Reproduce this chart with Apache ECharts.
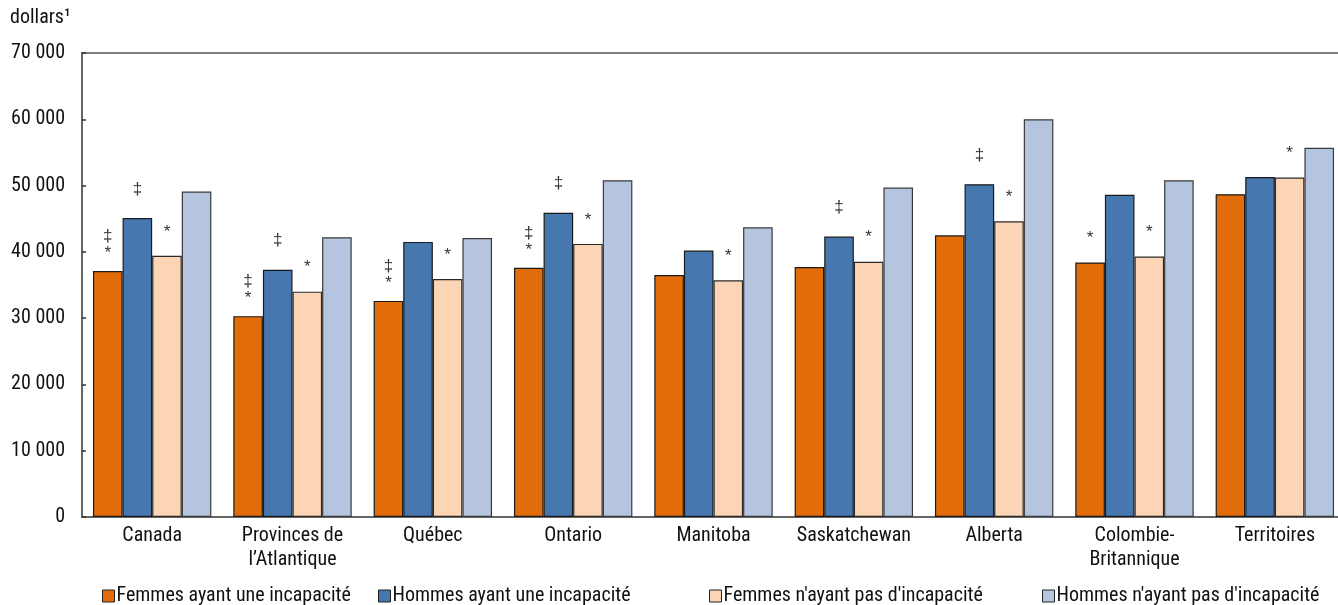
<!DOCTYPE html>
<html>
<head>
<meta charset="utf-8">
<script src="https://cdn.jsdelivr.net/npm/echarts@6/dist/echarts.min.js"></script>
<style>
html,body{margin:0;padding:0;background:#fff;overflow:hidden;}
#c{width:1352px;height:605px;}
</style>
</head>
<body>
<div id="c"></div>
<script>
const categories = ['Canada', 'Provinces de\nl\u2019Atlantique', 'Québec', 'Ontario', 'Manitoba', 'Saskatchewan', 'Alberta', 'Colombie-\nBritannique', 'Territoires'];
const seriesNames = ['Femmes ayant une incapacité', 'Hommes ayant une incapacité', "Femmes n'ayant pas d'incapacité", "Hommes n'ayant pas d'incapacité"];
const femmesIncap = [37100, 30300, 32600, 37600, 36500, 37700, 42500, 38400, 48700];
const hommesIncap = [45100, 37300, 41500, 45900, 40200, 42300, 50200, 48600, 51300];
const femmesSans  = [39400, 34000, 35900, 41200, 35700, 38500, 44600, 39300, 51200];
const hommesSans  = [49100, 42200, 42100, 50800, 43700, 49700, 60000, 50800, 55700];
const flagsFemmesIncap = ['‡*', '‡*', '‡*', '‡*', '', '', '', '*', ''];
const flagsHommesIncap = ['‡', '‡', '', '‡', '', '‡', '‡', '', ''];
const flagsFemmesSans  = ['*', '*', '*', '*', '*', '*', '*', '*', '*'];
const flagsHommesSans  = ['', '', '', '', '', '', '', '', ''];
const yTicks = [0, 10000, 20000, 30000, 40000, 50000, 60000, 70000];

const FONT = "'Liberation Sans Narrow', 'Arial Narrow', 'Roboto Condensed', 'Liberation Sans', sans-serif";
const colors = ['#E36C0A', '#4677AE', '#FBD5B5', '#B5C4DF'];
const borders = ['#1a1a1a', '#1a1a1a', '#2a2a2a', '#3a3a3a'];
const values = [femmesIncap, hommesIncap, femmesSans, hommesSans];
const flags = [flagsFemmesIncap, flagsHommesIncap, flagsFemmesSans, flagsHommesSans];

function fmt(v){ return String(v).replace(/\B(?=(\d{3})+(?!\d))/g, ' '); }

function buildData(vals, fl){
  return vals.map((v, i) => {
    const f = fl[i];
    let text = '', dist = 15, lh = 14;
    if (f === '‡*') { text = '‡\n*'; dist = 9; lh = 17; }
    else if (f === '*') { text = '*'; dist = 17; }
    else if (f === '‡') { text = '‡'; dist = 22; }
    return { value: v, label: { show: text !== '', formatter: text, distance: dist, lineHeight: lh } };
  });
}

const series = values.map((vals, k) => ({
  name: seriesNames[k],
  type: 'bar',
  data: buildData(vals, flags[k]),
  barWidth: 29.6,
  barGap: '0%',
  itemStyle: { color: colors[k], borderColor: borders[k], borderWidth: 1.2 },
  label: { position: 'top', color: '#333', fontSize: 17, fontFamily: "'Liberation Sans', Arial, sans-serif" },
  emphasis: { disabled: true }
}));

const legendLefts = [102, 378, 709, 1042];
const legends = seriesNames.map((n, k) => ({
  data: [n],
  left: legendLefts[k],
  top: 586,
  padding: 0,
  itemWidth: 12,
  itemHeight: 12,
  icon: 'rect',
  itemStyle: { borderColor: '#222', borderWidth: 1 },
  textStyle: { fontFamily: FONT, fontSize: 20, color: '#111', padding: [0, 0, 0, -3] },
  selectedMode: true
}));

const chart = echarts.init(document.getElementById('c'), null, { renderer: 'canvas' });
chart.setOption({
  animation: false,
  color: colors,
  grid: { left: 82, top: 53, right: 7, height: 464, show: false },
  graphic: [{ type: 'text', left: 10, top: 8, style: { text: 'dollars¹', fontFamily: FONT, fontSize: 20, fill: '#111' } }],
  legend: legends,
  xAxis: [{
    type: 'category',
    data: categories,
    axisLine: { lineStyle: { color: '#333', width: 1.5 } },
    axisTick: { show: false },
    axisLabel: { interval: 0, fontFamily: FONT, fontSize: 20, color: '#111', margin: 7, lineHeight: 24 }
  }, {
    type: 'category',
    position: 'top',
    data: categories,
    axisLine: { show: true, lineStyle: { color: '#555', width: 1.5 } },
    axisTick: { show: false },
    axisLabel: { show: false }
  }],
  yAxis: {
    type: 'value',
    min: yTicks[0], max: yTicks[yTicks.length - 1], interval: 10000,
    axisLine: { show: true, lineStyle: { color: '#333', width: 1.5 } },
    axisTick: { show: true, inside: true, length: 4, lineStyle: { color: '#333', width: 1.5 } },
    splitLine: { show: false },
    axisLabel: { fontFamily: FONT, fontSize: 20, color: '#111', margin: 17, formatter: fmt }
  },
  series: series
});
</script>
</body>
</html>
